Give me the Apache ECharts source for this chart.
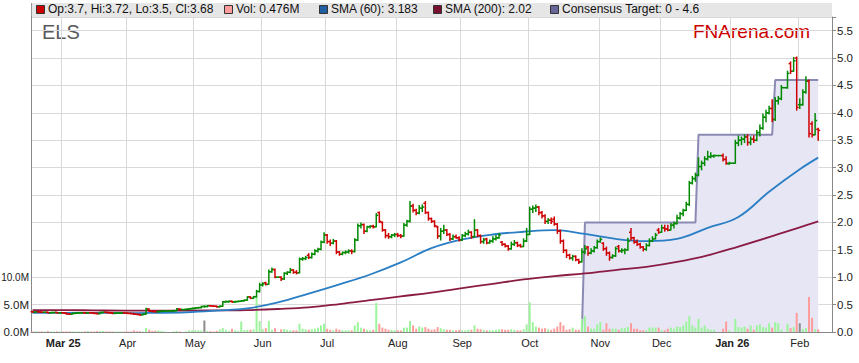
<!DOCTYPE html>
<html><head><meta charset="utf-8">
<script src="https://cdn.jsdelivr.net/npm/echarts@6/dist/echarts.min.js"></script>
<style>html,body{margin:0;padding:0;background:#fff}#c{width:859px;height:363px}</style>
</head><body><div id="c"></div><script>
// ---- categories: weekdays (incl. exchange holidays, drawn flat) ----
const firstDay = '2025-02-17';
const lastDay = '2026-02-16';
const monthNames = ['Jan','Feb','Mar','Apr','May','Jun','Jul','Aug','Sep','Oct','Nov','Dec'];

// ---- daily OHLC (one row per week, Mon..Fri) ----
const opens = [
.37,.365,.37,.365,.36,
.36,.35,.355,.358,.35,
.352,.345,.33,.325,.34,
.345,.35,.352,.345,.35,
.348,.34,.335,.355,.36,
.355,.35,.34,.345,.348,
.35,.345,.34,.335,.325,
.32,.315,.325,.42,.38,
.375,.37,.375,.38,.382,
.382,.382,.39,.42,.41,
.41,.415,.425,.43,.44,
.445,.465,.465,.48,.475,
.47,.46,.47,.55,.555,
.56,.55,.555,.56,.57,
.58,.64,.615,.645,.74,
.86,.90,.87,1.10,1.14,
1.0,1.0,.97,1.07,1.09,
1.13,1.09,1.08,1.33,1.34,
1.40,1.36,1.42,1.48,1.51,
1.64,1.77,1.65,1.62,1.66,
1.46,1.42,1.45,1.46,1.48,
1.47,1.68,1.94,1.96,1.84,
1.92,1.93,1.92,2.18,2.0,
1.86,1.76,1.74,1.77,1.78,
1.76,1.75,1.95,2.02,2.30,
2.22,2.17,2.26,2.35,2.18,
2.07,2.02,1.92,1.75,1.84,
1.86,1.78,1.70,1.74,1.72,
1.68,1.76,1.79,1.82,1.74,
1.86,1.76,1.65,1.70,1.63,
1.66,1.70,1.72,1.64,1.60,
1.57,1.52,1.60,1.63,1.58,
1.56,1.66,1.78,2.24,2.26,
2.28,2.18,2.12,2.02,2.04,
2.06,1.97,1.84,1.66,1.49,
1.40,1.35,1.38,1.32,1.28,
1.46,1.55,1.44,1.48,1.54,
1.65,1.62,1.52,1.44,1.36,
1.39,1.56,1.48,1.49,1.50,
1.82,1.72,1.64,1.60,1.55,
1.51,1.58,1.66,1.70,1.86,
1.82,1.90,1.88,1.86,1.95,
1.98,2.08,2.16,2.22,2.33,
2.72,2.80,2.86,3.02,3.08,
3.16,3.20,3.21,3.22,3.22,
3.22,3.15,3.07,3.08,3.08,
3.45,3.50,3.52,3.56,3.46,
3.52,3.50,3.64,3.72,3.92,
4.0,4.08,3.88,4.22,4.26,
4.46,4.46,4.90,4.76,5.0,
4.15,4.15,4.38,4.58,3.80,
3.60,3.70];
const highs = [
.375,.37,.375,.37,.365,
.365,.36,.36,.36,.355,
.355,.35,.335,.345,.35,
.355,.355,.355,.355,.355,
.35,.345,.36,.365,.365,
.36,.355,.35,.35,.355,
.352,.35,.345,.34,.33,
.325,.33,.435,.42,.385,
.38,.38,.385,.385,.382,
.382,.395,.43,.425,.41,
.42,.43,.44,.445,.45,
.47,.48,.485,.485,.48,
.475,.475,.555,.565,.565,
.565,.56,.565,.575,.585,
.645,.645,.65,.76,.89,
.90,.91,1.13,1.17,1.15,
1.0,1.01,1.08,1.10,1.16,
1.14,1.12,1.35,1.36,1.38,
1.43,1.44,1.50,1.53,1.66,
1.81,1.78,1.68,1.69,1.67,
1.47,1.46,1.48,1.50,1.50,
1.70,1.97,1.99,1.97,1.93,
1.94,1.95,2.16,2.19,2.01,
1.87,1.80,1.78,1.80,1.80,
1.78,1.98,2.04,2.38,2.33,
2.24,2.31,2.32,2.38,2.19,
2.08,2.03,1.93,1.89,1.95,
1.87,1.80,1.77,1.77,1.74,
1.78,1.82,1.86,1.83,2.05,
1.87,1.77,1.71,1.71,1.68,
1.74,1.76,1.80,1.65,1.61,
1.58,1.64,1.67,1.64,1.60,
1.70,1.89,2.28,2.30,2.32,
2.29,2.20,2.14,2.07,2.08,
2.10,1.98,1.86,1.68,1.50,
1.42,1.40,1.39,1.33,1.52,
1.58,1.56,1.52,1.56,1.68,
1.72,1.63,1.55,1.46,1.41,
1.55,1.58,1.52,1.52,1.71,
1.89,1.73,1.68,1.62,1.56,
1.61,1.70,1.74,1.80,1.89,
1.95,1.95,1.95,1.98,2.01,
2.13,2.18,2.24,2.37,2.75,
2.84,2.90,3.18,3.12,3.20,
3.30,3.27,3.23,3.22,3.22,
3.25,3.20,3.10,3.08,3.50,
3.58,3.56,3.60,3.60,3.56,
3.58,3.68,3.78,3.98,4.05,
4.12,4.24,4.28,4.30,4.50,
4.46,4.76,4.93,5.01,5.02,
4.26,4.42,4.66,4.60,3.84,
3.99,3.72];
const lows = [
.36,.36,.36,.355,.355,
.345,.345,.35,.345,.345,
.34,.325,.32,.325,.335,
.34,.345,.34,.34,.345,
.335,.33,.335,.35,.35,
.345,.335,.335,.34,.34,
.34,.335,.33,.32,.315,
.30,.31,.325,.375,.37,
.365,.365,.37,.375,.382,
.382,.375,.39,.405,.41,
.405,.41,.42,.425,.435,
.44,.455,.46,.47,.465,
.455,.455,.47,.545,.545,
.545,.54,.55,.555,.565,
.58,.61,.61,.64,.73,
.84,.86,.87,1.09,.99,
1.0,.94,.96,1.05,1.08,
1.07,1.06,1.08,1.31,1.32,
1.34,1.35,1.41,1.46,1.50,
1.63,1.62,1.58,1.61,1.43,
1.40,1.41,1.43,1.44,1.43,
1.46,1.67,1.90,1.80,1.83,
1.90,1.90,1.92,2.0,1.84,
1.72,1.71,1.72,1.74,1.74,
1.72,1.75,1.93,2.01,2.19,
2.14,2.16,2.20,2.16,2.04,
2.0,1.92,1.71,1.68,1.80,
1.76,1.67,1.69,1.71,1.66,
1.67,1.74,1.77,1.71,1.73,
1.74,1.62,1.62,1.61,1.62,
1.64,1.68,1.71,1.58,1.55,
1.49,1.51,1.58,1.56,1.55,
1.56,1.65,1.78,2.18,2.20,
2.14,2.08,1.98,1.98,1.98,
1.95,1.80,1.62,1.45,1.36,
1.33,1.31,1.30,1.25,1.28,
1.43,1.40,1.43,1.46,1.53,
1.64,1.49,1.40,1.31,1.35,
1.38,1.46,1.45,1.43,1.49,
1.68,1.62,1.58,1.53,1.48,
1.49,1.57,1.65,1.70,1.80,
1.82,1.84,1.85,1.86,1.90,
1.97,2.06,2.12,2.22,2.31,
2.70,2.75,2.85,2.96,3.04,
3.14,3.18,3.19,3.22,3.22,
3.12,3.06,3.06,3.08,3.08,
3.40,3.42,3.46,3.41,3.42,
3.46,3.49,3.58,3.70,3.84,
3.98,3.84,3.86,4.16,4.24,
4.46,4.45,4.72,4.76,4.05,
4.08,4.14,4.36,3.56,3.56,
3.60,3.50];
const closes = [
.365,.37,.365,.36,.362,
.35,.355,.358,.35,.352,
.345,.33,.325,.34,.345,
.35,.352,.345,.35,.348,
.34,.335,.355,.36,.355,
.35,.34,.345,.348,.35,
.345,.34,.335,.325,.32,
.315,.325,.42,.38,.375,
.37,.375,.38,.382,.382,
.382,.39,.42,.41,.41,
.415,.425,.43,.44,.445,
.465,.465,.48,.475,.47,
.46,.47,.55,.555,.56,
.55,.555,.56,.57,.58,
.64,.615,.645,.74,.86,
.88,.87,1.10,1.14,1.0,
1.0,.97,1.07,1.09,1.13,
1.09,1.08,1.33,1.34,1.36,
1.36,1.42,1.48,1.51,1.64,
1.77,1.65,1.62,1.66,1.46,
1.42,1.45,1.46,1.48,1.47,
1.68,1.94,1.96,1.84,1.92,
1.93,1.92,2.13,2.02,1.86,
1.76,1.74,1.77,1.78,1.76,
1.75,1.95,2.02,2.30,2.22,
2.17,2.26,2.28,2.18,2.07,
2.02,1.94,1.75,1.84,1.86,
1.78,1.70,1.74,1.72,1.68,
1.76,1.79,1.82,1.74,1.86,
1.76,1.65,1.68,1.63,1.66,
1.70,1.72,1.77,1.60,1.57,
1.52,1.60,1.63,1.58,1.56,
1.66,1.78,2.24,2.26,2.28,
2.18,2.12,2.02,2.04,2.02,
1.97,1.84,1.66,1.49,1.40,
1.35,1.38,1.32,1.28,1.46,
1.52,1.44,1.48,1.54,1.65,
1.69,1.52,1.44,1.36,1.39,
1.52,1.48,1.49,1.50,1.66,
1.72,1.64,1.60,1.55,1.51,
1.58,1.66,1.70,1.77,1.82,
1.90,1.88,1.86,1.95,1.98,
2.08,2.16,2.22,2.33,2.72,
2.80,2.86,3.02,3.08,3.16,
3.20,3.21,3.22,3.22,3.22,
3.15,3.08,3.08,3.08,3.45,
3.50,3.52,3.56,3.46,3.52,
3.50,3.64,3.72,3.92,4.0,
4.08,3.88,4.22,4.26,4.46,
4.46,4.72,4.76,4.95,4.10,
4.15,4.38,4.58,3.62,3.60,
3.86,3.68];
// daily volume, millions
const volumes = [
.1,.15,.1,.12,.1,
.2,.1,.1,.12,.1,
.1,.12,.1,.1,.08,
.1,.08,.1,.2,.1,
.1,.15,.2,.2,.1,
.1,.1,.08,.1,.1,
.08,.1,.1,.3,.15,
.15,.1,.75,.4,.2,
.25,.3,.2,.1,0,
0,.1,.2,.1,0,
.1,.3,.3,.3,.3,
.3,2.1,.2,.15,.1,
.2,.45,.7,.4,.2,
.6,.3,.2,1.9,.35,
.4,.4,.5,6.4,2.0,
.5,.7,2.0,.4,.7,
0,.5,.55,.4,.3,
.3,.3,1.5,.6,.5,
.4,.5,.6,.8,1.2,
1.5,.6,.4,.3,.6,
.4,.3,.3,.3,.3,
1.2,1.8,.8,.6,.4,
.3,.4,5.3,1.5,.8,
.6,.4,.4,.3,.3,
.3,.8,.8,2.0,1.2,
.6,1.0,.8,.9,.6,
.4,.5,.9,.7,.5,
.4,.4,.3,.3,.4,
.3,.3,.4,.4,1.2,
.6,.5,.4,.3,.3,
.3,.4,.5,.5,.4,
.4,.5,.4,.3,.3,
.5,1.4,5.4,1.8,1.0,
.8,.6,.7,.5,.4,
.6,1.0,1.8,1.2,.4,
.5,.8,.4,.4,2.4,
2.9,1.0,.6,.6,1.4,
1.8,.4,1.6,.6,.6,
.6,.4,.7,.7,.9,
1.6,.6,.6,.3,.3,
.3,.8,.8,.8,.8,
.3,.3,.6,.8,.6,
1.0,.9,1.2,1.9,2.9,
1.2,.8,2.4,.8,1.2,
.6,.4,.4,0,0,
.6,1.9,.3,0,2.4,
.9,.8,1.0,.6,1.2,
.4,1.2,1.4,.9,.8,
1.6,.8,1.8,1.6,.4,
0,1.5,.7,.9,3.5,
1.6,.5,.7,6.4,2.6,
.5,.476];

// ---- moving averages (read at sample dates) ----
const smaDates = ['2025-02-17','2025-03-03','2025-03-17','2025-03-31','2025-04-14','2025-04-28','2025-05-12','2025-05-26','2025-06-09','2025-06-23','2025-07-07','2025-07-21','2025-08-04','2025-08-18','2025-09-01','2025-09-15','2025-09-29','2025-10-13','2025-10-27','2025-11-10','2025-11-24','2025-12-08','2025-12-22','2026-01-05','2026-01-19','2026-02-02','2026-02-10'];
const sma60 =  [0.35,0.35,0.35,0.345,0.35,0.36,0.39,0.43,0.54,0.70,0.87,1.05,1.27,1.53,1.69,1.78,1.83,1.86,1.79,1.70,1.66,1.70,1.90,2.10,2.56,2.97,3.183];
const sma200 = [0.40,0.40,0.395,0.39,0.39,0.39,0.395,0.40,0.42,0.45,0.51,0.58,0.65,0.72,0.80,0.88,0.96,1.02,1.07,1.13,1.19,1.28,1.40,1.56,1.73,1.91,2.02];

// ---- consensus target steps ----
const consensusDates = ['2025-10-24','2025-10-27','2025-12-16','2025-12-17','2026-01-20','2026-01-21','2026-02-10'];
const consensusVals = [0, 2.0, 2.0, 3.6, 3.6, 4.6, 4.6];

const priceTicks = [0,0.5,1,1.5,2,2.5,3,3.5,4,4.5,5,5.5];
const volTicks = [0,5,10];

// build weekday categories
function pad(n){return n<10?'0'+n:''+n;}
const dates = [];
(function(){
  const p = firstDay.split('-').map(Number), q = lastDay.split('-').map(Number);
  let t = Date.UTC(p[0],p[1]-1,p[2]); const end = Date.UTC(q[0],q[1]-1,q[2]);
  while (t <= end) {
    const d = new Date(t); const wd = d.getUTCDay();
    if (wd !== 0 && wd !== 6) dates.push(d.getUTCFullYear()+'-'+pad(d.getUTCMonth()+1)+'-'+pad(d.getUTCDate()));
    t += 86400000;
  }
})();
function isMonthStart(i){ return i>0 && dates[i].slice(5,7) !== dates[i-1].slice(5,7); }
let firstLabel = -1;
for (let i=0;i<dates.length;i++){ if(isMonthStart(i)){firstLabel=i;break;} }

const GREEN='#008a00', RED='#d00000';
const FONT='"Liberation Sans", Arial, sans-serif';
const ohlc = closes.map((c,i)=>[i, opens[i], highs[i], lows[i], c]);
const volData = volumes.map((v,i)=>({value:v, itemStyle:{color: closes[i]>opens[i] ? '#9cf59c' : (closes[i]<opens[i] ? '#ff9c9c' : '#8c8c8c')}}));
const idx = d => dates.indexOf(d);

const n = closes.length - 1;
const legendItems = [
  {x:36, color:'#cc0000', text:'Op:'+opens[n]+', Hi:'+highs[n]+', Lo:'+lows[n]+', Cl:'+closes[n]},
  {x:224, color:'#ff9c9c', text:'Vol: '+volumes[n]+'M'},
  {x:319, color:'#1f5f9f', text:'SMA (60): '+sma60[sma60.length-1]},
  {x:433, color:'#7a1030', text:'SMA (200): '+sma200[sma200.length-1]},
  {x:550, color:'#66669a', text:'Consensus Target: '+Math.min.apply(null,consensusVals)+' - '+Math.max.apply(null,consensusVals)}
];
const graphic = [
  {type:'rect', shape:{x:31,y:3,width:801,height:14}, style:{fill:'#e6e6e6'}, z:0},
  {type:'line', shape:{x1:31.5,y1:3,x2:31.5,y2:17}, style:{stroke:'#999',lineWidth:1}},
  {type:'text', x:42, y:22, style:{text:'ELS', font:'20px '+FONT, fill:'#5a5a5a'}},
  {type:'text', x:693, y:22, style:{text:'FNArena.com', font:'19px '+FONT, fill:'#cc0000'}}
];
legendItems.forEach(it=>{
  graphic.push({type:'rect', shape:{x:it.x+0.5,y:5.5,width:8,height:8}, style:{fill:it.color, stroke:'#333', lineWidth:1}});
  graphic.push({type:'text', x:it.x+12, y:3, style:{text:it.text, font:'12px '+FONT, fill:'#111'}});
});

const chart = echarts.init(document.getElementById('c'), null, {renderer:'svg'});
chart.setOption({
  animation:false,
  backgroundColor:'#fff',
  grid:{left:31, right:27, top:17, bottom:31, containLabel:false, outerBoundsMode:'none'},
  graphic: graphic,
  xAxis:{
    type:'category', data:dates, boundaryGap:true,
    axisLine:{show:true, lineStyle:{color:'#888'}},
    axisTick:{show:false},
    axisLabel:{
      interval:(i)=>isMonthStart(i), margin:5, color:'#222', fontSize:11, fontFamily:FONT,
      formatter:(v,i)=>{
        const m = +v.slice(5,7)-1;
        if (m===0 || i===firstLabel) return '{b|'+monthNames[m]+' '+v.slice(2,4)+'}';
        return monthNames[m];
      },
      rich:{b:{fontWeight:'bold', fontSize:11, color:'#222', fontFamily:FONT}}
    },
    splitLine:{show:true, interval:(i)=>isMonthStart(i), lineStyle:{color:'#d9d9d9', width:1}}
  },
  yAxis:[
    {type:'value', position:'right', min:0, max:5.75, interval:0.5,
     axisLine:{show:true, lineStyle:{color:'#888'}},
     axisTick:{show:true, length:4, lineStyle:{color:'#888'}},
     axisLabel:{margin:5, color:'#222', fontSize:11.5, fontFamily:FONT,
       formatter:v=> priceTicks.some(t=>Math.abs(t-v)<1e-6) ? v.toFixed(1) : ''},
     splitLine:{show:true, lineStyle:{color:'#d9d9d9', width:1}}},
    {type:'value', position:'left', min:0, max:57.5, interval:5,
     axisLine:{show:true, lineStyle:{color:'#888'}},
     axisTick:{show:false},
     axisLabel:{margin:2, color:'#222', fontSize:11.5, fontFamily:FONT,
       formatter:v=> {
         if (!volTicks.some(t=>Math.abs(t-v)<1e-6)) return '';
         const s = v.toFixed(1)+'M';
         return s.length > 4 ? '{s|'+s+'}' : s;
       },
       rich:{s:{fontSize:10, color:'#222', fontFamily:FONT}}},
     splitLine:{show:false}}
  ],
  series:[
    {type:'line', name:'Consensus', yAxisIndex:0, z:1, symbol:'none',
     data: consensusDates.map((d,i)=>[idx(d), consensusVals[i]]),
     lineStyle:{color:'#8a8ab4', width:2}, areaStyle:{color:'#e6e6f5', opacity:1}},
    {type:'bar', name:'Vol', yAxisIndex:1, z:2, barWidth:2, data:volData},
    {type:'line', name:'SMA200', yAxisIndex:0, z:3, symbol:'none', smooth:0.4,
     data: smaDates.map((d,i)=>[idx(d), sma200[i]]), lineStyle:{color:'#8a1c44', width:1.8}},
    {type:'line', name:'SMA60', yAxisIndex:0, z:3, symbol:'none', smooth:0.4,
     data: smaDates.map((d,i)=>[idx(d), sma60[i]]), lineStyle:{color:'#2a7fc4', width:1.8}},
    {type:'custom', name:'OHLC', yAxisIndex:0, z:4, data:ohlc,
     encode:{x:0, y:[1,2,3,4]},
     renderItem:function(params, api){
       const x = api.value(0), o=api.value(1), h=api.value(2), l=api.value(3), c=api.value(4);
       const pO=api.coord([x,o]), pH=api.coord([x,h]), pL=api.coord([x,l]), pC=api.coord([x,c]);
       const col = c>=o ? GREEN : RED;
       const st = {stroke:col, lineWidth:1.5};
       return {type:'group', children:[
         {type:'line', shape:{x1:pH[0],y1:pH[1]-0.5,x2:pL[0],y2:pL[1]+0.5}, style:st},
         {type:'line', shape:{x1:pO[0]-2,y1:pO[1],x2:pO[0],y2:pO[1]}, style:st},
         {type:'line', shape:{x1:pC[0],y1:pC[1],x2:pC[0]+2,y2:pC[1]}, style:st}
       ]};
     }}
  ]
});
</script></body></html>
